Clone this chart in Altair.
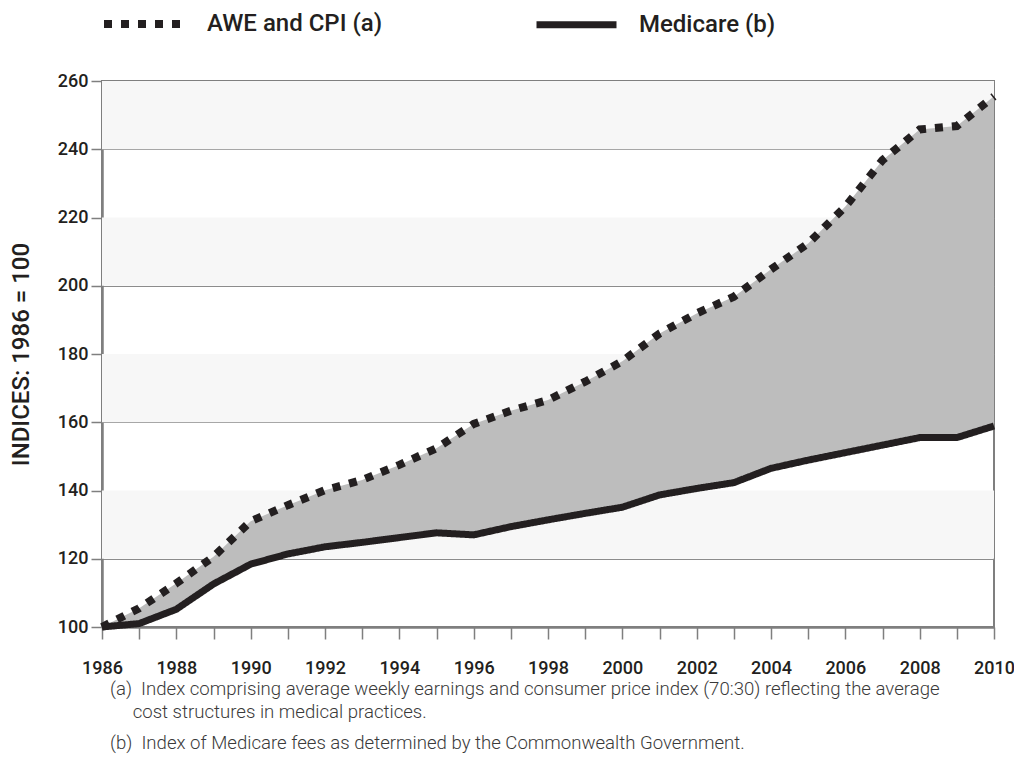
import altair as alt
import pandas as pd

# ---- data ----
years = list(range(1986, 2011))
awe_cpi = [100.0, 105.5, 112.8, 120.6, 131.0, 135.7, 140.1, 143.1, 147.5, 152.4,
           159.5, 163.4, 166.5, 171.9, 177.9, 186.0, 191.9, 196.8, 204.8, 212.4,
           223.2, 236.8, 245.8, 246.8, 255.5]
medicare = [100.0, 101.0, 105.2, 112.6, 118.4, 121.4, 123.5, 124.8, 126.2, 127.6,
            127.0, 129.4, 131.4, 133.3, 135.1, 138.7, 140.6, 142.3, 146.5, 148.9,
            151.1, 153.3, 155.5, 155.5, 158.9]
series_names = ["AWE and CPI (a)", "Medicare (b)"]
band_low = [120, 160, 200, 240]
band_high = [140, 180, 220, 260]
y_ticks = list(range(100, 261, 20))
y_title = "INDICES: 1986 = 100"
NB = "\u00a0"
ZW = "\u200b"
footnote_lines = [
    "(a)" + NB + NB + "Index comprising average weekly earnings and consumer price index (70:30) reflecting the average",
    ZW + NB * 5 + "cost structures in medical practices.",
]
footnote_b = "(b)" + NB + NB + "Index of Medicare fees as determined by the Commonwealth Government."

# ---- tables ----
wide = pd.DataFrame({"year": years, "awe": awe_cpi, "med": medicare})
long = pd.concat([
    pd.DataFrame({"year": years, "value": medicare, "series": series_names[1], "ord": 0}),
    pd.DataFrame({"year": years, "value": awe_cpi, "series": series_names[0], "ord": 1}),
])
bands = pd.DataFrame({"lo": band_low, "hi": band_high})

INK = "#231f20"
AXIS_GRAY = "#7f7f7f"
FONT = "Roboto"

yscale = alt.Scale(domain=[100, 260], nice=False, zero=False)
xscale = alt.Scale(domain=[1986, 2010], nice=False, zero=False)
yaxis = alt.Axis(values=y_ticks, title=y_title, grid=True, gridColor="#8c8c8c", gridWidth=1.2,
                 tickSize=11, tickColor=AXIS_GRAY, tickWidth=1.5,
                 domainColor=AXIS_GRAY, domainWidth=2.5,
                 labelPadding=3, labelFontSize=18, titleFontSize=24, titlePadding=24)
xaxis = alt.Axis(values=years, format="d", labelExpr="datum.value % 2 == 0 ? datum.label : ''",
                 tickSize=12, tickColor=AXIS_GRAY, tickWidth=1.5, grid=False,
                 domainColor=AXIS_GRAY, domainWidth=2.5, labelFontSize=18,
                 labelPadding=20, labelFlush=False, title=None)

band_layer = alt.Chart(bands).mark_rect(fill="#f7f7f7").encode(
    y=alt.Y("lo:Q", scale=yscale, axis=yaxis),
    y2="hi:Q",
)

area_layer = alt.Chart(wide).mark_area(color="#bdbdbd", opacity=1).encode(
    x=alt.X("year:Q", scale=xscale, axis=xaxis),
    y=alt.Y("awe:Q", scale=yscale, axis=yaxis),
    y2="med:Q",
)

line_layer = alt.Chart(long).mark_line(color=INK, strokeCap="butt", strokeJoin="miter").encode(
    x=alt.X("year:Q", scale=xscale, axis=xaxis),
    y=alt.Y("value:Q", scale=yscale, axis=yaxis),
    strokeDash=alt.StrokeDash(
        "series:N",
        scale=alt.Scale(domain=series_names, range=[[8, 9], [1, 0]]),
        legend=alt.Legend(title=None, orient="none", direction="horizontal",
                          legendX=-2, legendY=-101, padding=0,
                          symbolType="stroke", symbolSize=6400, symbolStrokeWidth=8,
                          symbolStrokeColor=INK, labelFontSize=24, labelFont=FONT,
                          labelFontWeight=500, labelColor=INK, labelLimit=400,
                          labelOffset=19, columnPadding=139),
    ),
    strokeWidth=alt.StrokeWidth(
        "series:N", scale=alt.Scale(domain=series_names, range=[8, 7]), legend=None),
    order=alt.Order("ord:Q"),
)

chart = alt.layer(band_layer, area_layer, line_layer).properties(
    width=892, height=546,
    autosize=alt.AutoSizeParams(type="none"),
    padding={"left": 94, "top": 73, "right": 20, "bottom": 130},
    title=alt.TitleParams(
        text=footnote_lines, subtitle=[footnote_b], orient="bottom", anchor="start",
        frame="group",
        font=FONT, fontSize=18.6, fontWeight=300, color="#3a3a3a", lineHeight=23,
        subtitleFont=FONT, subtitleFontSize=18.6, subtitleFontWeight=300,
        subtitleColor="#3a3a3a", subtitlePadding=12, offset=3, dx=8,
    ),
).configure_view(
    stroke=AXIS_GRAY, strokeWidth=2, fill="white"
).configure_axis(
    labelFont=FONT, labelFontWeight=500, labelColor=INK,
    titleFont=FONT, titleFontWeight=500, titleColor=INK,
)

chart.save("out.html", embed_options={"renderer": "svg", "actions": False})
